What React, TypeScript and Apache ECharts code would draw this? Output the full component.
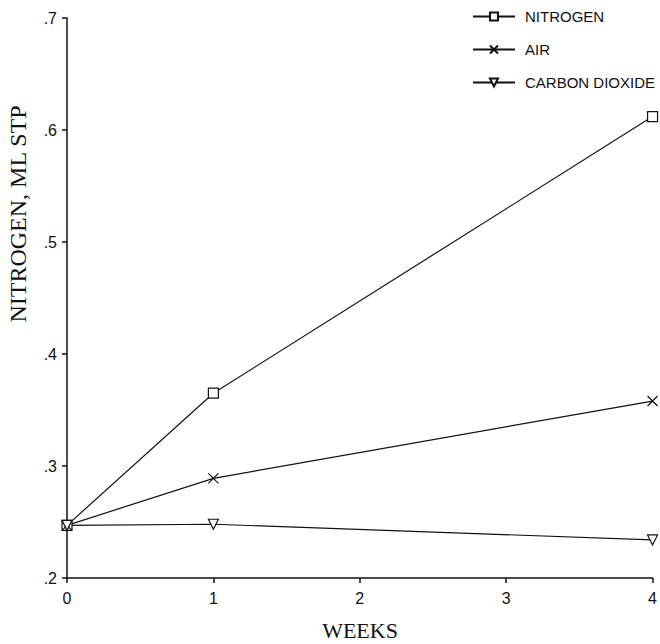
import React, { useEffect, useRef } from "react";
import * as echarts from "echarts";

const weeks = [0, 1, 4];
const nitrogen = [0.247, 0.365, 0.612];
const air = [0.247, 0.289, 0.358];
const carbonDioxide = [0.247, 0.248, 0.234];
const seriesNames = ["NITROGEN", "AIR", "CARBON DIOXIDE"];
const xTitle = "WEEKS";
const yTitle = "NITROGEN, ML STP";

const pairs = (ys: number[]) => weeks.map((w, i) => [w, ys[i]]);

export default function App() {
  const ref = useRef<HTMLDivElement>(null);
  useEffect(() => {
    const chart = echarts.init(ref.current!, undefined, { renderer: "svg" });
    const lineStyle = { color: "#111", width: 1.2 };
    const base = {
      type: "line",
      showSymbol: true,
      symbolSize: 10,
      lineStyle,
      itemStyle: { color: "#fff", borderColor: "#111", borderWidth: 1.2 },
      emphasis: { disabled: true },
    };
    chart.setOption({
      animation: false,
      backgroundColor: "#fff",
      grid: { left: 67, right: 7, top: 18, bottom: 66, containLabel: false },
      legend: {
        orient: "vertical",
        right: 0,
        top: 4,
        itemWidth: 42,
        itemHeight: 10,
        itemGap: 18,
        textStyle: { fontFamily: "Liberation Sans, Arial, sans-serif", fontSize: 15, color: "#111", padding: [0, 0, 0, 5] },
        data: seriesNames,
      },
      xAxis: {
        type: "value",
        min: 0,
        max: 4,
        interval: 1,
        axisLine: { show: true, lineStyle: { color: "#111", width: 1.5 } },
        axisTick: { show: true, length: 5, lineStyle: { color: "#111", width: 1.5 } },
        splitLine: { show: false },
        axisLabel: { color: "#111", fontSize: 16, fontFamily: "Liberation Sans, Arial, sans-serif", margin: 12 },
      },
      yAxis: {
        type: "value",
        min: 0.2,
        max: 0.7,
        interval: 0.1,
        axisLine: { show: true, lineStyle: { color: "#111", width: 1.5 } },
        axisTick: { show: true, length: 5, lineStyle: { color: "#111", width: 1.5 } },
        splitLine: { show: false },
        axisLabel: {
          color: "#111",
          fontSize: 16,
          fontFamily: "Liberation Sans, Arial, sans-serif",
          margin: 10,
          formatter: (v: number) => v.toFixed(1).replace(/^0/, ""),
        },
      },
      graphic: [
        {
          type: "text",
          x: 18,
          y: 214,
          rotation: Math.PI / 2,
          style: {
            text: yTitle,
            fontFamily: "Liberation Serif, Times New Roman, serif",
            fontSize: 24,
            fill: "#111",
            textAlign: "center",
            textVerticalAlign: "middle",
          },
        },
        {
          type: "text",
          x: 360,
          y: 630,
          style: {
            text: xTitle,
            fontFamily: "Liberation Serif, Times New Roman, serif",
            fontSize: 22,
            fill: "#111",
            textAlign: "center",
            textVerticalAlign: "middle",
          },
        },
      ],
      series: [
        { ...base, name: seriesNames[0], symbol: "rect", data: pairs(nitrogen) },
        { ...base, name: seriesNames[1], symbol: "path://M0,0L10,10M10,0L0,10", data: pairs(air) },
        { ...base, name: seriesNames[2], symbol: "triangle", symbolRotate: 180, data: pairs(carbonDioxide) },
      ],
    });
    return () => chart.dispose();
  }, []);
  return <div ref={ref} style={{ width: 660, height: 644, position: "absolute", left: 0, top: 0 }} />;
}
